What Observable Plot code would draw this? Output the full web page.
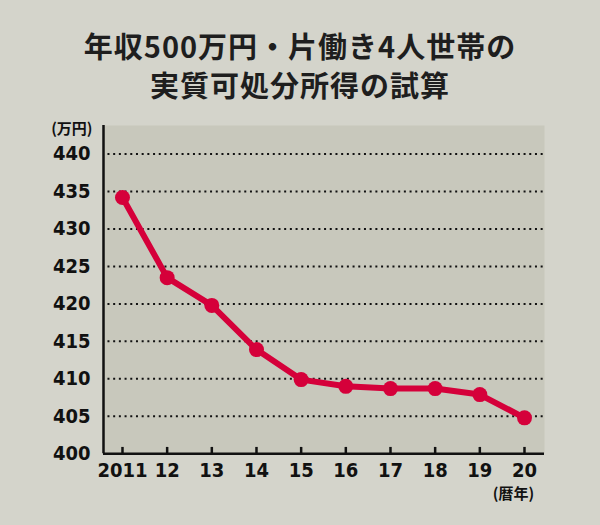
<!DOCTYPE html>
<html>
<head>
<meta charset="utf-8">
<script src="https://cdn.jsdelivr.net/npm/d3@7"></script>
<script src="https://cdn.jsdelivr.net/npm/@observablehq/plot@0.6"></script>
<style>
  html, body { margin: 0; padding: 0; background: #d4d4cb; }
  #wrap { width: 600px; height: 525px; overflow: hidden; background: #d4d4cb; }
  #title {
    height: 112px; box-sizing: border-box; padding-top: 26px;
    text-align: center; font-family: "Noto Sans CJK JP", sans-serif;
    font-weight: 700; font-size: 29px; line-height: 39px; color: #1e1e1e;
    letter-spacing: 1px;
  }
  #chart svg text { font-weight: bold; }
  #chart svg g[aria-label="y-axis tick label"],
  #chart svg g[aria-label="x-axis tick label"] {
    font-size: 20px !important;
    font-family: 'Liberation Sans Narrow', 'DejaVu Sans Condensed', sans-serif !important;
  }
  #chart svg g.unit { font-size: 15px !important; font-family: 'Noto Sans CJK JP', sans-serif !important; }
</style>
</head>
<body>
<div id="wrap">
  <div id="title">年収500万円・片働き4人世帯の<br>実質可処分所得の試算</div>
  <div id="chart"></div>
</div>
<script>
const years = [2011, 2012, 2013, 2014, 2015, 2016, 2017, 2018, 2019, 2020];
const values = [434.2, 423.5, 419.8, 413.9, 409.9, 409.0, 408.7, 408.7, 407.9, 404.8];
const xTickLabels = ["2011", "12", "13", "14", "15", "16", "17", "18", "19", "20"];
const yTicks = [400, 405, 410, 415, 420, 425, 430, 435, 440];
const yUnit = "(万円)";
const xUnit = "(暦年)";

const data = years.map((y, i) => ({year: y, value: values[i]}));
const xDomain = [2010.575, 2020.448];
const yDomain = [400, 443.8];
const numFont = "'Liberation Sans Narrow', 'DejaVu Sans Condensed', sans-serif";
const cjkFont = "'Noto Sans CJK JP', sans-serif";
const red = "#d5003a";

const chart = Plot.plot({
  width: 600,
  height: 413,
  marginTop: 13,
  marginBottom: 71.7,
  marginLeft: 103,
  marginRight: 56,
  x: {domain: xDomain},
  y: {domain: yDomain},
  style: {background: "transparent", fontFamily: numFont, color: "#111"},
  marks: [
    Plot.frame({fill: "#c8c8bc", stroke: "none"}),
    Plot.ruleY(yTicks.slice(1), {stroke: "#111", strokeWidth: 2, strokeDasharray: "2,3.7", x1: xDomain[0] + 0.1, x2: xDomain[1]}),
    Plot.ruleX(years, {y1: 400, y2: 400.85, stroke: "#111", strokeWidth: 2.5}),
    Plot.ruleY([400], {stroke: "#111", strokeWidth: 2.5}),
    Plot.ruleX([xDomain[0]], {stroke: "#111", strokeWidth: 2.5}),
    Plot.line(data, {x: "year", y: "value", stroke: red, strokeWidth: 6, strokeLinejoin: "round"}),
    Plot.dot(data, {x: "year", y: "value", r: 7.5, fill: red, stroke: "none"}),
    Plot.axisY({ticks: yTicks, tickSize: 0, tickPadding: 13, fontSize: 20, label: null, fill: "#111"}),
    Plot.axisX({ticks: years, tickFormat: d => xTickLabels[years.indexOf(d)], tickSize: 0, tickPadding: 9, fontSize: 20, label: null, fill: "#111"}),
    Plot.text([yUnit], {x: xDomain[0], y: yDomain[1], text: d => d, dx: -11, dy: 4, textAnchor: "end", fontSize: 15, fontFamily: cjkFont, fontWeight: "bold", fill: "#111", className: "unit"}),
    Plot.text([xUnit], {x: years[years.length - 1], y: 400, text: d => d, dx: -11, dy: 40, textAnchor: "middle", fontSize: 15, fontFamily: cjkFont, fontWeight: "bold", fill: "#111", className: "unit"})
  ]
});
document.getElementById("chart").appendChild(chart);
</script>
</body>
</html>
